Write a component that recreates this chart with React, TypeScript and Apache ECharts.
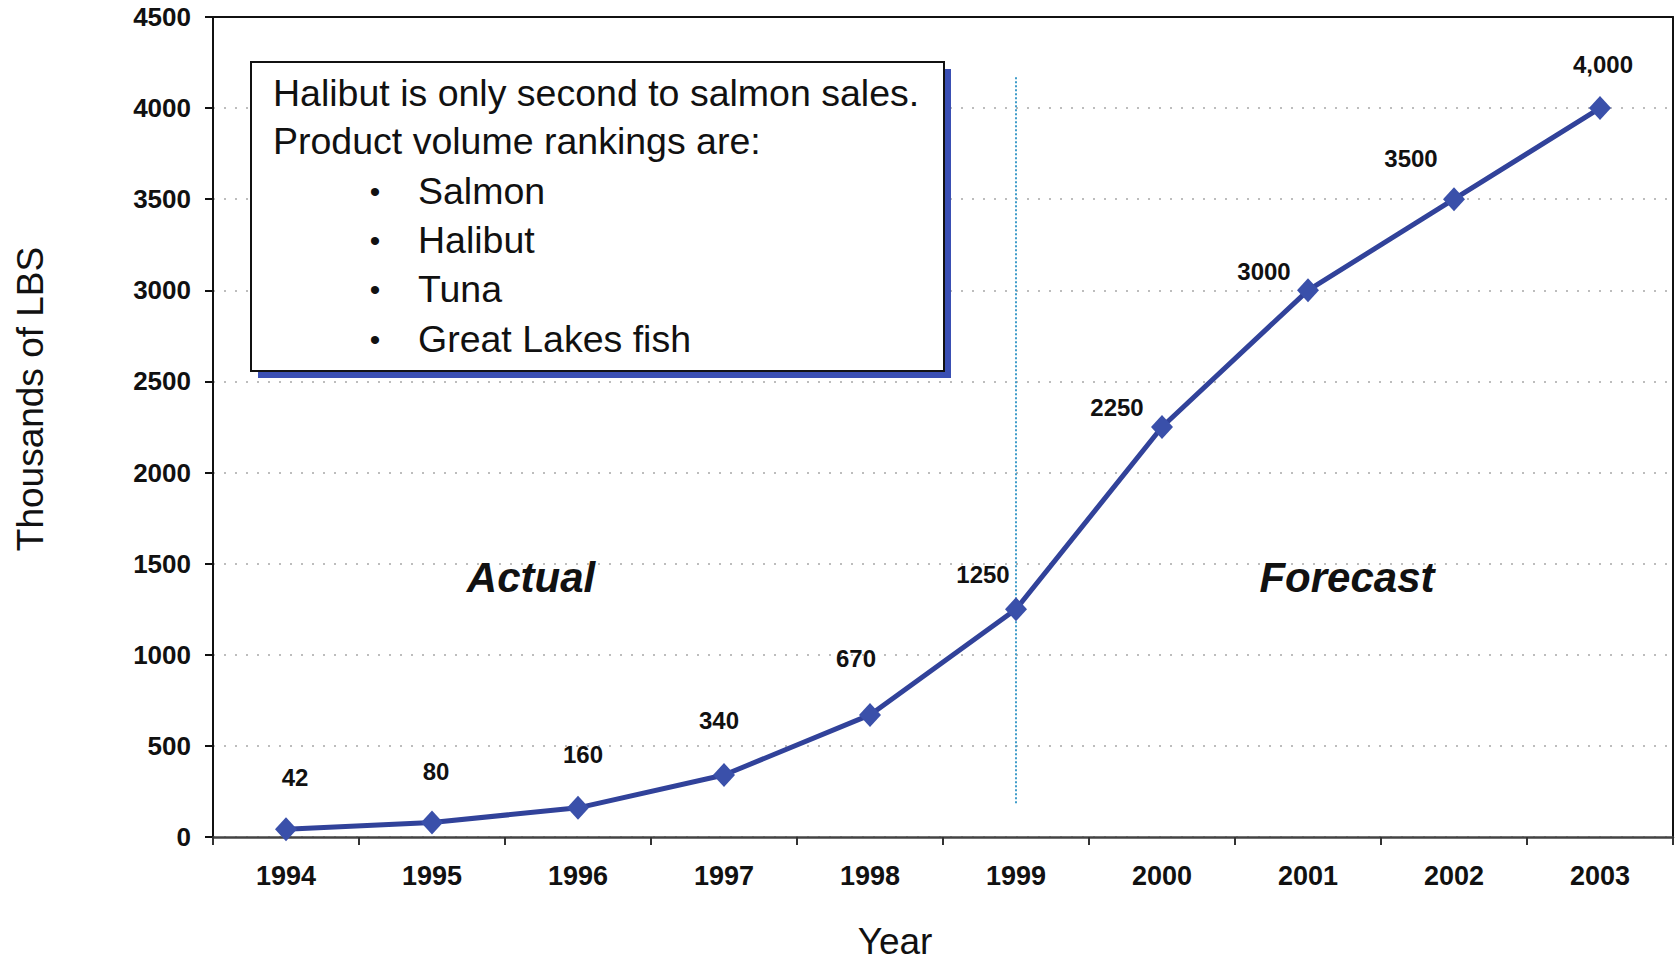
import React, { useEffect, useRef } from "react";
import * as echarts from "echarts";

// ---- data ----
const years = ["1994", "1995", "1996", "1997", "1998", "1999", "2000", "2001", "2002", "2003"];
const volumes = [42, 80, 160, 340, 670, 1250, 2250, 3000, 3500, 4000];
const valueLabels = ["42", "80", "160", "340", "670", "1250", "2250", "3000", "3500", "4,000"];
const splitYear = "1999";
const splitLineRange = [4170, 180];
const phaseLabels = ["Actual", "Forecast"];
const boxIntro = ["Halibut is only second to salmon sales.", "Product volume rankings are:"];
const rankings = ["Salmon", "Halibut", "Tuna", "Great Lakes fish"];
const yAxisTitle = "Thousands of LBS";
const xAxisTitle = "Year";

// ---- layout (label offsets relative to point centres) ----
const labelOffsets: number[][] = [
  [9, -52], [4, -51], [5, -53], [-5, -55], [-14, -56],
  [-33, -35], [-45, -20], [-44, -19], [-43, -41], [3, -44],
];

const FONT = "'Liberation Sans', Arial, sans-serif";

export default function App() {
  const ref = useRef<HTMLDivElement>(null);

  useEffect(() => {
    if (!ref.current) return;
    const chart = echarts.init(ref.current, null, { renderer: "svg" });

    const boxX = 251, boxY = 62, boxW = 693, boxH = 309;
    const lineYs = [93, 141, 191, 240, 289, 339];

    const textEls: any[] = [];
    boxIntro.forEach((t, i) => {
      textEls.push({
        type: "text",
        x: 273,
        y: lineYs[i],
        style: { text: t, font: `37.5px ${FONT}`, fill: "#111", textVerticalAlign: "middle", textAlign: "left" },
        z: 12,
      });
    });
    rankings.forEach((t, i) => {
      textEls.push({
        type: "text",
        x: 375,
        y: lineYs[i + 2],
        style: { text: "•", font: `30px ${FONT}`, fill: "#111", textVerticalAlign: "middle", textAlign: "center" },
        z: 12,
      });
      textEls.push({
        type: "text",
        x: 418,
        y: lineYs[i + 2],
        style: { text: t, font: `37.5px ${FONT}`, fill: "#111", textVerticalAlign: "middle", textAlign: "left" },
        z: 12,
      });
    });

    const borderOnly = {
      axisTick: { show: false },
      axisLabel: { show: false },
      splitLine: { show: false },
      axisLine: { show: true, onZero: false, lineStyle: { color: "#111", width: 2 } },
    };

    chart.setOption({
      animation: false,
      backgroundColor: "#ffffff",
      grid: {
        left: 213,
        top: 17,
        width: 1460,
        height: 820,
        show: false,
      },
      xAxis: [
        {
          type: "category",
          data: years,
          boundaryGap: true,
          axisLine: { show: true, lineStyle: { color: "#444", width: 2.5 } },
          axisTick: { show: true, alignWithLabel: false, length: 8, lineStyle: { color: "#333", width: 2 } },
          axisLabel: { fontFamily: FONT, fontSize: 27, fontWeight: "bold", color: "#111", margin: 25 },
          splitLine: { show: false },
        },
        { type: "category", data: years, position: "top", ...borderOnly },
      ],
      yAxis: [
        {
          type: "value",
          min: 0,
          max: 4500,
          interval: 500,
          axisLine: { show: true, lineStyle: { color: "#111", width: 2 } },
          axisTick: { show: true, length: 8, lineStyle: { color: "#111", width: 2 } },
          axisLabel: {
            fontFamily: FONT,
            fontSize: 26,
            fontWeight: "bold",
            color: "#111",
            margin: 22,
            formatter: (v: number) => String(v),
          },
          splitLine: { show: true, lineStyle: { color: "#bdbdbd", width: 2, type: [2, 9] } },
        },
        { type: "value", min: 0, max: 4500, position: "right", ...borderOnly },
      ],
      graphic: [
        {
          type: "text",
          x: 30,
          y: 399,
          rotation: Math.PI / 2,
          style: {
            text: yAxisTitle,
            font: `37px ${FONT}`,
            fill: "#111",
            textAlign: "center",
            textVerticalAlign: "middle",
          },
        },
        {
          type: "text",
          x: 895,
          y: 941,
          style: {
            text: xAxisTitle,
            font: `37px ${FONT}`,
            fill: "#111",
            textAlign: "center",
            textVerticalAlign: "middle",
          },
        },
        {
          type: "rect",
          shape: { x: boxX + 7, y: boxY + 7, width: boxW, height: boxH },
          style: { fill: "#3a4fb3" },
          z: 10,
        },
        {
          type: "rect",
          shape: { x: boxX, y: boxY, width: boxW, height: boxH },
          style: { fill: "#ffffff", stroke: "#111", lineWidth: 2 },
          z: 11,
        },
        ...textEls,
        {
          type: "text",
          x: 531,
          y: 577,
          style: {
            text: phaseLabels[0],
            font: `italic bold 42px ${FONT}`,
            fill: "#111",
            textAlign: "center",
            textVerticalAlign: "middle",
          },
          z: 12,
        },
        {
          type: "text",
          x: 1347,
          y: 577,
          style: {
            text: phaseLabels[1],
            font: `italic bold 42px ${FONT}`,
            fill: "#111",
            textAlign: "center",
            textVerticalAlign: "middle",
          },
          z: 12,
        },
      ],
      series: [
        {
          type: "line",
          xAxisIndex: 0,
          yAxisIndex: 0,
          data: volumes.map((v, i) => ({
            value: v,
            label: { offset: labelOffsets[i] },
          })),
          symbol: "diamond",
          symbolSize: [22, 24],
          itemStyle: { color: "#3a50aa" },
          lineStyle: { color: "#31429a", width: 5 },
          label: {
            show: true,
            position: "inside",
            formatter: (p: any) => valueLabels[p.dataIndex],
            fontFamily: FONT,
            fontSize: 24,
            fontWeight: "bold",
            color: "#111",
          },
          z: 5,
          markLine: {
            silent: true,
            symbol: ["none", "none"],
            label: { show: false },
            lineStyle: { color: "#3f9cc9", width: 2, type: [2, 2] },
            data: [[{ coord: [splitYear, splitLineRange[0]] }, { coord: [splitYear, splitLineRange[1]] }]],
          },
        },
      ],
    });

    return () => chart.dispose();
  }, []);

  return (
    <div
      ref={ref}
      style={{ position: "fixed", left: 0, top: 0, width: 1675, height: 962 }}
    />
  );
}
